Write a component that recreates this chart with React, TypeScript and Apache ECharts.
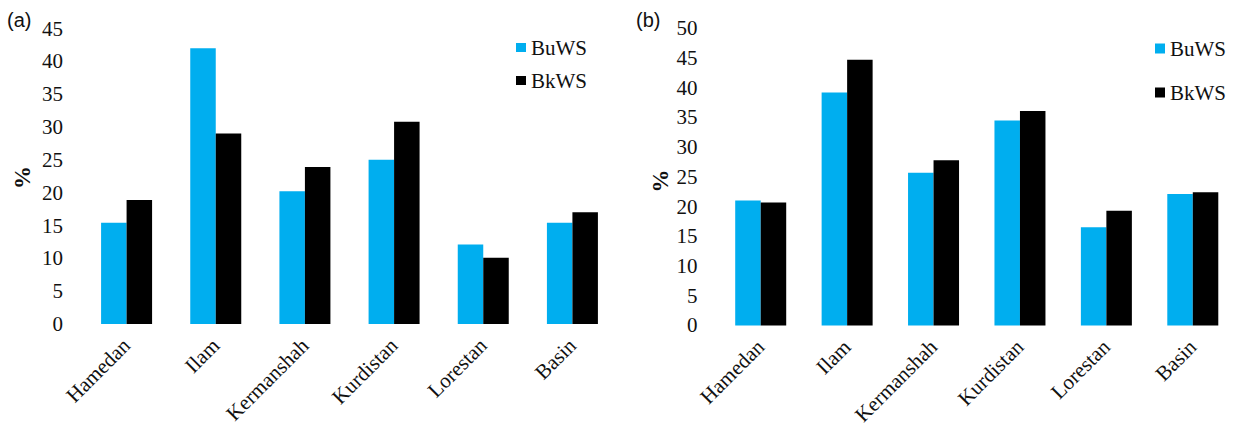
import React, { useEffect, useRef } from "react";
import * as echarts from "echarts";

const categories = ["Hamedan", "Ilam", "Kermanshah", "Kurdistan", "Lorestan", "Basin"];
const seriesNames = ["BuWS", "BkWS"];
const aBuWS = [15.4, 42.0, 20.2, 25.0, 12.1, 15.4];
const aBkWS = [18.9, 29.0, 23.9, 30.8, 10.1, 17.0];
const bBuWS = [21.0, 39.2, 25.7, 34.5, 16.5, 22.1];
const bBkWS = [20.7, 44.7, 27.8, 36.1, 19.3, 22.4];
const aTicks = { min: 0, max: 45, interval: 5 };
const bTicks = { min: 0, max: 50, interval: 5 };

const BLUE = "#00AEEF";
const BLACK = "#000000";
const SERIF = "Liberation Serif";
const SANS = "Liberation Sans";

export default function App() {
  const ref = useRef<HTMLDivElement>(null);
  useEffect(() => {
    if (!ref.current) return;
    const chart = echarts.init(ref.current, null, { renderer: "svg" });
    const xAxisCommon = {
      type: "category",
      data: categories,
      axisLine: { show: false },
      axisTick: { show: false },
      axisLabel: { rotate: 45, margin: 18, fontFamily: SERIF, fontSize: 21, color: "#111" },
    };
    const yLabel = { fontFamily: SERIF, fontSize: 21, color: "#111", margin: 19 };
    const yAxisCommon = {
      type: "value",
      axisLine: { show: false },
      axisTick: { show: false },
      splitLine: { show: false },
    };
    const barCommon = { type: "bar", barWidth: 25.5, barGap: "0%" };
    chart.setOption({
      animation: false,
      grid: [
        { left: 82, top: 28.5, width: 535, height: 295.5 },
        { left: 717.5, top: 28.3, width: 536, height: 299 },
      ],
      xAxis: [
        { ...xAxisCommon, gridIndex: 0 },
        { ...xAxisCommon, gridIndex: 1 },
      ],
      yAxis: [
        { ...yAxisCommon, gridIndex: 0, ...aTicks, axisLabel: { ...yLabel } },
        { ...yAxisCommon, gridIndex: 1, ...bTicks, axisLabel: { ...yLabel, margin: 20 } },
      ],
      legend: [
        {
          data: seriesNames,
          orient: "vertical",
          left: 511,
          top: 32,
          itemWidth: 10,
          itemHeight: 9,
          itemGap: 12,
          icon: "rect",
          textStyle: { fontFamily: SERIF, fontSize: 21, color: "#111" },
        },
        {
          data: seriesNames,
          orient: "vertical",
          left: 1150,
          top: 33,
          itemWidth: 10,
          itemHeight: 10,
          itemGap: 23,
          icon: "rect",
          textStyle: { fontFamily: SERIF, fontSize: 21, color: "#111" },
        },
      ],
      graphic: [
        { type: "text", left: 7, top: 10, style: { text: "(a)", fontFamily: SANS, fontSize: 20, fill: "#111" } },
        { type: "text", left: 636, top: 10, style: { text: "(b)", fontFamily: SANS, fontSize: 20, fill: "#111" } },
        {
          type: "text", x: 22.5, y: 177.5, rotation: Math.PI / 2,
          style: { text: "%", fontFamily: SERIF, fontSize: 23, fontWeight: "bold", fill: "#111", align: "center", verticalAlign: "middle" },
        },
        {
          type: "text", x: 660.5, y: 181, rotation: Math.PI / 2,
          style: { text: "%", fontFamily: SERIF, fontSize: 23, fontWeight: "bold", fill: "#111", align: "center", verticalAlign: "middle" },
        },
      ],
      series: [
        { ...barCommon, name: seriesNames[0], xAxisIndex: 0, yAxisIndex: 0, data: aBuWS, itemStyle: { color: BLUE } },
        { ...barCommon, name: seriesNames[1], xAxisIndex: 0, yAxisIndex: 0, data: aBkWS, itemStyle: { color: BLACK } },
        { ...barCommon, name: seriesNames[0], xAxisIndex: 1, yAxisIndex: 1, data: bBuWS, itemStyle: { color: BLUE } },
        { ...barCommon, name: seriesNames[1], xAxisIndex: 1, yAxisIndex: 1, data: bBkWS, itemStyle: { color: BLACK } },
      ],
    });
    return () => chart.dispose();
  }, []);
  return (
    <div
      ref={ref}
      style={{ position: "absolute", left: 0, top: 0, width: 1236, height: 428, background: "#fff" }}
    />
  );
}
